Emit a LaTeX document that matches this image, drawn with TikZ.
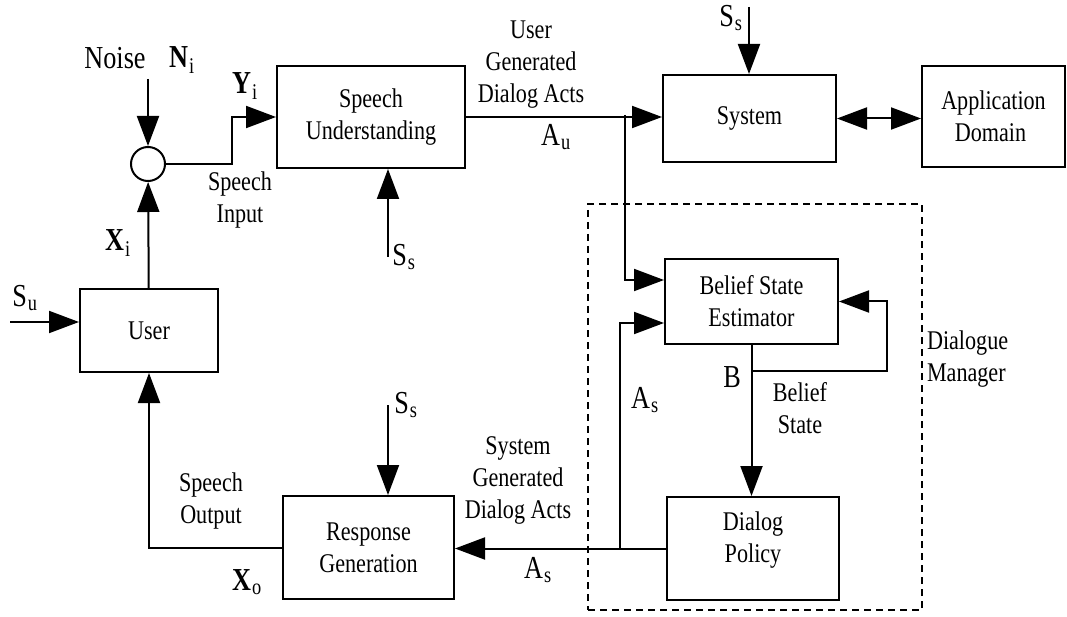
\documentclass[tikz,border=0pt]{standalone}
\usepackage{fontspec}
\setmainfont{Liberation Serif}[FakeStretch=0.82]
\usetikzlibrary{arrows.meta, positioning, calc}
\newcommand{\subsc}[1]{\textsubscript{\kern1pt#1}}

\begin{document}
\begin{tikzpicture}[x=1pt, y=-1pt, line width=2pt,
  every node/.style={font=\fontsize{27}{32}\selectfont, align=center, inner sep=0pt},
  blk/.style={draw, line width=2pt},
  arr/.style={-{Triangle[length=30pt, width=22pt]}},
  dbl/.style={{Triangle[length=30pt, width=22pt]}-{Triangle[length=30pt, width=22pt]}},
  big/.style={font=\fontsize{32}{36}\selectfont}]
  \useasboundingbox (0,0) rectangle (1067,617);

  % the blocks
  \node[blk, minimum width=188pt, minimum height=102pt] (su) at (371,117) {Speech\\Understanding};
  \node[blk, minimum width=173pt, minimum height=87pt] (sys) at (749.5,118.5) {System};
  \node[blk, minimum width=143pt, minimum height=101pt] (app) at (993.5,116.5) {Application\\Domain\hspace*{6pt}};
  \node[blk, minimum width=138pt, minimum height=83pt] (user) at (149,330.5) {User};
  \node[blk, minimum width=171pt, minimum height=103pt] (rg) at (368.5,547.5) {Response\\Generation};
  \node[blk, minimum width=173pt, minimum height=85pt] (bse) at (751.5,301.5) {Belief State\\Estimator};
  \node[blk, minimum width=172pt, minimum height=103pt, text depth=22pt] (pol) at (753,548.5) {Dialog\\Policy};
  \node[draw, circle, minimum size=34pt] (sum) at (148,164) {};
  % dialogue manager frame
  \node[draw, dash pattern=on 7pt off 5pt, minimum width=334pt, minimum height=406pt] (dm) at (755,407) {};
  \node[anchor=west, align=left] (dmlbl) at (926,359) {Dialogue\\Manager};

  % free ends
  \coordinate (noise) at (148,79);
  \coordinate (suin) at (10,322);
  \coordinate (ssTop) at (749,7);
  \coordinate (ssSU) at (388,257);
  \coordinate (ssRG) at (388,405);
  \coordinate (yi) at (232,164);
  \coordinate (au) at (625,117);
  \coordinate (asb) at (620,548.5);
  \coordinate (fb) at (887,371);

  % user side
  \draw[arr] (noise) -- (sum);
  \draw[arr] (user) -- (sum);
  \draw[arr] (sum) -- (yi) |- (su.west);
  \draw[arr] (suin) -- (suin -| user.west);
  \draw[arr] (rg.west) -| (user.south);
  \node[big] (noiselbl) at (115,58) {Noise};
  \node[big] (nilbl) at (182,60) {\textbf{N}\subsc{i}};
  \node[big] (xilbl) at (118,243) {\textbf{X}\subsc{i}};
  \node[big] (yilbl) at (245,86) {\textbf{Y}\subsc{i}};
  \node (silbl) at (240,200) {Speech\\Input};
  \node[big] (sulbl) at (25,298) {S\subsc{u}};
  \node (solbl) at (211,501) {Speech\\Output};
  \node[big] (xolbl) at (247,582) {\textbf{X}\subsc{o}};

  % system side
  \foreach \c/\b in {ssSU/su.south, ssRG/rg.north, ssTop/sys.north}
    \draw[arr] (\c) -- (\c |- \b);
  \draw[arr] (su.east) -- (su.east -| sys.west);
  \draw[dbl] (sys.east) -- (sys.east -| app.west);
  \draw[arr] ([yshift=2pt]au) |- ([yshift=21.5pt]bse.west);
  \draw[arr] (bse.south) -- (bse.south |- pol.north);
  \draw[arr] (bse.south |- fb) -- (fb) |- (bse.east);
  \draw[arr] (pol.west) -- (pol.west -| rg.east);
  \draw[arr] (asb) |- ([yshift=-21.5pt]bse.west);
  \node[big] (ss1lbl) at (404,257) {S\subsc{s}};
  \node[big] (ss2lbl) at (406,405) {S\subsc{s}};
  \node[big] (ss3lbl) at (731,18) {S\subsc{s}};
  \node (ugda) at (531,65) {User\\Generated\\Dialog Acts};
  \node[big] (aulbl) at (556,137) {A\subsc{u}};
  \node (sgda) at (518,480) {System\\Generated\\Dialog Acts};
  \node[big] (as1lbl) at (538,570) {A\subsc{s}};
  \node[big] (as2lbl) at (645,400) {A\subsc{s}};
  \node[big] (blbl) at (732,377) {B};
  \node (bslbl) at (800,408) {Belief\\State};
\end{tikzpicture}
\end{document}
